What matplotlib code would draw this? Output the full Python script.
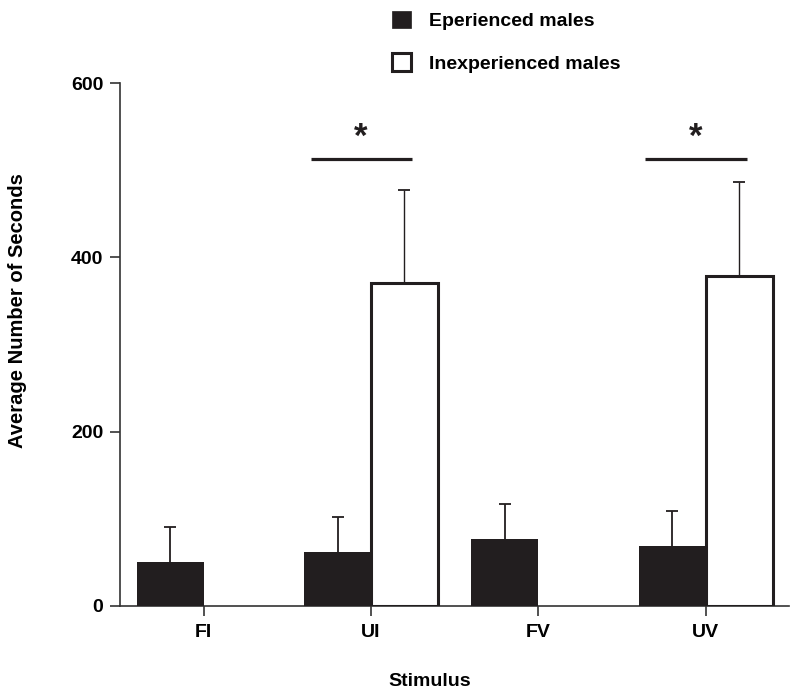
import numpy as np
import matplotlib.pyplot as plt
from matplotlib.patches import Patch

plt.rcParams['font.family'] = ['Liberation Sans', 'DejaVu Sans']
plt.rcParams['font.weight'] = 'bold'

# data
stimuli = ['FI', 'UI', 'FV', 'UV']
experienced = [50, 62, 77, 69]
experienced_err = [40, 40, 40, 40]
inexperienced = [np.nan, 371, np.nan, 379]
inexperienced_err = [np.nan, 106, np.nan, 108]
significant = ['UI', 'UV']

bar_color = '#221e1f'
w = 0.4
x = np.arange(len(stimuli))

fig = plt.figure(figsize=(8, 6.99), dpi=100)
ax = fig.add_axes([0.15, 0.1335, 0.8366, 0.7473])

ax.bar(x - w / 2, experienced, w, color=bar_color, edgecolor=bar_color,
       linewidth=0, zorder=3)
ax.bar(x + w / 2, inexperienced, w, color='white', edgecolor=bar_color,
       linewidth=2.2, zorder=3)

# upper error bars only: a stem from the bar top and a cap
for xs, vals, errs, lw in [(x - w / 2, experienced, experienced_err, 1.3),
                           (x + w / 2, inexperienced, inexperienced_err, 1.0)]:
    vals = np.array(vals, dtype=float)
    tops = vals + np.array(errs, dtype=float)
    ax.vlines(xs, vals, tops, color=bar_color, lw=lw, zorder=2)
    ax.plot(xs, tops, ls='none', marker='_', markersize=8.5,
            markeredgewidth=1.3, color=bar_color, zorder=2)

# significance bars
for s in significant:
    i = stimuli.index(s)
    ax.plot([i - 0.36, i + 0.245], [513, 513], color=bar_color, lw=2.3,
            solid_capstyle='butt')
    ax.text(i - 0.06, 538, '*', ha='center', va='center', fontsize=25,
            fontweight='bold', color=bar_color)

ax.set_xlim(-0.5, 3.5)
ax.set_ylim(0, 600)
ax.set_yticks([0, 200, 400, 600])
ax.set_xticks(x)
ax.set_xticklabels(stimuli)
for sp in ['top', 'right']:
    ax.spines[sp].set_visible(False)
for sp in ['left', 'bottom']:
    ax.spines[sp].set_linewidth(1.2)
    ax.spines[sp].set_color('#333333')
ax.tick_params(axis='both', length=7, width=1.2, color='#333333',
               labelsize=14, direction='out')
ax.tick_params(axis='y', pad=5)
ax.tick_params(axis='x', pad=6)
for lab in ax.get_xticklabels() + ax.get_yticklabels():
    lab.set_fontweight('bold')

fig.text(0.0225, 1 - 311 / 699, 'Average Number of Seconds', rotation=90,
         ha='center', va='center', fontsize=14.5, fontweight='bold')
fig.text(430 / 800, 1 - 682 / 699, 'Stimulus', ha='center', va='center',
         fontsize=14, fontweight='bold')

handles = [Patch(facecolor=bar_color, edgecolor=bar_color, linewidth=0.5),
           Patch(facecolor='white', edgecolor=bar_color, linewidth=2.2)]
fig.legend(handles, ['Eperienced males', 'Inexperienced males'],
           loc='upper left', bbox_to_anchor=(382 / 800, 1 - 1 / 699),
           frameon=False, handlelength=1.0, handleheight=1.0,
           handletextpad=0.9, labelspacing=1.2, borderpad=0,
           prop={'weight': 'bold', 'size': 14})

fig.savefig('out.png', dpi=100)
